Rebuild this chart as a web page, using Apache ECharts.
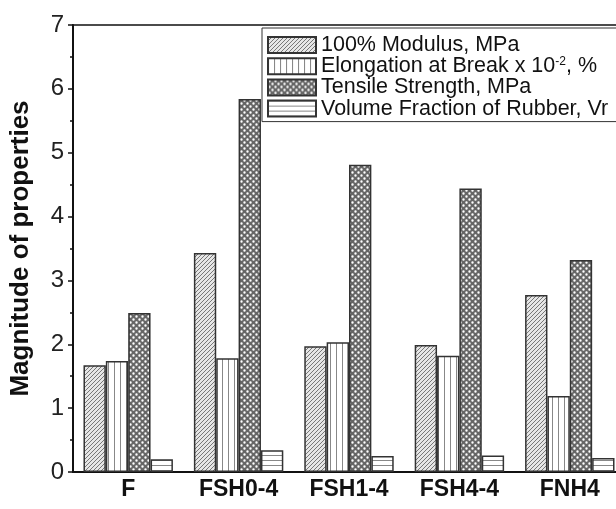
<!DOCTYPE html>
<html>
<head>
<meta charset="utf-8">
<script src="https://cdn.jsdelivr.net/npm/echarts@6/dist/echarts.min.js"></script>
<style>
  html, body { margin: 0; padding: 0; background: #fff; }
  #chart { width: 616px; height: 509px; }
</style>
</head>
<body>
<div id="chart"></div>
<script>
var categories = ['F', 'FSH0-4', 'FSH1-4', 'FSH4-4', 'FNH4']
var modulus = [1.67, 3.43, 1.97, 1.99, 2.77]
var elongation = [1.74, 1.78, 2.03, 1.82, 1.19]
var tensile = [2.49, 5.84, 4.81, 4.44, 3.32]
var rubberVr = [0.2, 0.34, 0.25, 0.26, 0.22]
var yTicks = [0, 1, 2, 3, 4, 5, 6, 7]

// small canvas tiles used as fill patterns
function tile (w, h, draw) {
  var c = document.createElement('canvas')
  c.width = w
  c.height = h
  draw(c.getContext('2d'))
  return { image: c, repeat: 'repeat' }
}

var diagFill = tile(4, 4, function (g) {
  g.fillStyle = '#e6e6e6'
  g.fillRect(0, 0, 4, 4)
  g.strokeStyle = '#777'
  g.lineWidth = 1
  g.beginPath()
  g.moveTo(-1, 5); g.lineTo(5, -1)
  g.moveTo(-1, 1); g.lineTo(1, -1)
  g.moveTo(3, 5); g.lineTo(5, 3)
  g.stroke()
})
var vertFill = tile(6, 2, function (g) {
  g.fillStyle = '#fff'
  g.fillRect(0, 0, 6, 2)
  g.fillStyle = '#888'
  g.fillRect(0, 0, 1, 2)
})
var crossFill = tile(6, 6, function (g) {
  g.fillStyle = '#666'
  g.fillRect(0, 0, 6, 6)
  g.fillStyle = '#fff'
  g.beginPath()
  g.arc(1.5, 1.5, 1.2, 0, Math.PI * 2)
  g.arc(4.5, 4.5, 1.2, 0, Math.PI * 2)
  g.fill()
})
var horizFill = tile(2, 5, function (g) {
  g.fillStyle = '#fff'
  g.fillRect(0, 0, 2, 5)
  g.fillStyle = '#888'
  g.fillRect(0, 0, 2, 1)
})

function barSeries (name, data, fill) {
  return {
    name: name,
    type: 'bar',
    data: data,
    barGap: 0,
    barCategoryGap: '19%',
    itemStyle: {
      color: fill,
      borderColor: '#333',
      borderWidth: 1.5
    }
  }
}

var chart = echarts.init(document.getElementById('chart'), null, { renderer: 'canvas' })
chart.setOption({
  animation: false,
  backgroundColor: '#fff',
  textStyle: { fontFamily: 'Liberation Sans' },
  grid: {
    left: 73,
    right: -9,
    top: 25,
    bottom: 37,
    outerBoundsMode: 'none',
    containLabel: false,
    show: true,
    borderColor: '#111',
    borderWidth: 1.5
  },
  legend: {
    orient: 'vertical',
    left: 262,
    top: 28,
    itemWidth: 48,
    itemHeight: 16,
    itemGap: -0.8,
    padding: [6, 40, 2, 5],
    borderColor: '#333',
    borderWidth: 1,
    backgroundColor: '#fff',
    icon: 'rect',
    textStyle: {
      fontSize: 21.5,
      color: '#111',
      padding: [0, 0, 0, 0],
      rich: {
        sup: { fontSize: 12, verticalAlign: 'top', padding: [0, 0, 8, 0], color: '#111' }
      }
    },
    formatter: function (name) {
      if (name.indexOf('Elongation') === 0) {
        return 'Elongation at Break x 10{sup|-2}, %'
      }
      return name
    },
    data: ['100% Modulus, MPa', 'Elongation at Break x 10-2, %', 'Tensile Strength, MPa', 'Volume Fraction of Rubber, Vr']
  },
  xAxis: {
    type: 'category',
    data: categories,
    axisLine: { lineStyle: { color: '#111', width: 2 } },
    axisTick: { alignWithLabel: true, length: 7, lineStyle: { width: 2, color: '#111' } },
    axisLabel: { fontSize: 23, fontWeight: 'bold', color: '#111', margin: 6 }
  },
  yAxis: {
    type: 'value',
    min: yTicks[0],
    max: yTicks[yTicks.length - 1],
    interval: 1,
    name: 'Magnitude of properties',
    nameLocation: 'middle',
    nameGap: 39,
    nameTextStyle: { fontSize: 26, fontWeight: 'bold', color: '#111' },
    axisLine: { show: true, lineStyle: { color: '#111', width: 2 } },
    axisTick: { show: true, length: 5, lineStyle: { width: 1.5, color: '#111' } },
    minorTick: { show: true, splitNumber: 2, length: 3, lineStyle: { width: 1.5, color: '#111' } },
    splitLine: { show: false },
    axisLabel: { fontSize: 24, color: '#222', margin: 9 }
  },
  series: [
    barSeries('100% Modulus, MPa', modulus, diagFill),
    barSeries('Elongation at Break x 10-2, %', elongation, vertFill),
    barSeries('Tensile Strength, MPa', tensile, crossFill),
    barSeries('Volume Fraction of Rubber, Vr', rubberVr, horizFill)
  ]
})
</script>
</body>
</html>
